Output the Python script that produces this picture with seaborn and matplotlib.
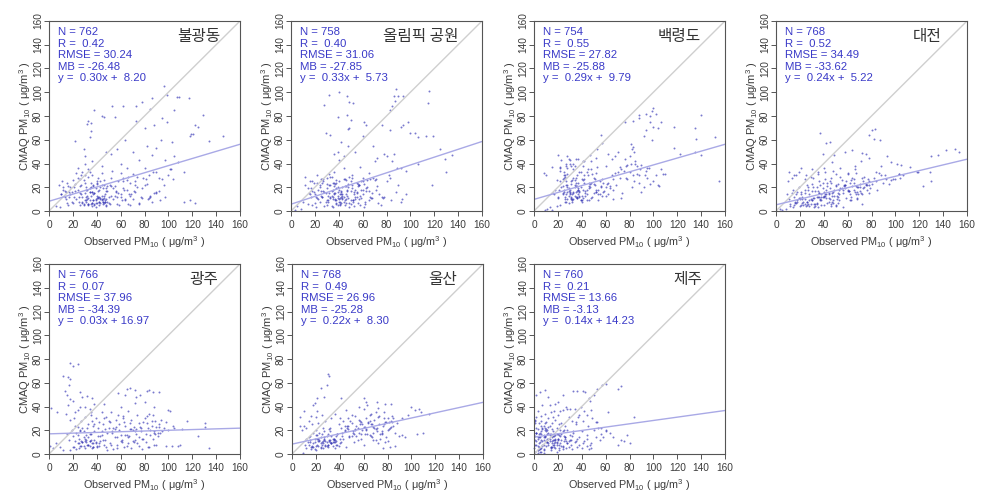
#!/usr/bin/env python3
"""CMAQ vs observed PM10 scatter panels for seven sites."""

import matplotlib
matplotlib.use("Agg")
import matplotlib.pyplot as plt
import numpy as np
import seaborn as sns

sites = ["불광동", "올림픽 공원", "백령도", "대전", "광주", "울산", "제주"]
n_obs = [762, 758, 754, 768, 766, 768, 760]
r_vals = [0.42, 0.40, 0.55, 0.52, 0.07, 0.49, 0.21]
rmse_vals = [30.24, 31.06, 27.82, 34.49, 37.96, 26.96, 13.66]
mb_vals = [-26.48, -27.85, -25.88, -33.62, -34.39, -25.28, -3.13]
slopes = [0.30, 0.33, 0.29, 0.24, 0.03, 0.22, 0.14]
intercepts = [8.20, 5.73, 9.79, 5.22, 16.97, 8.30, 14.23]
ticks = [0, 20, 40, 60, 80, 100, 120, 140, 160]

obs_1 = [
    96, 99, 107, 109, 117, 86, 78, 62, 53, 73, 38, 44, 46, 55, 33, 35, 73, 32, 85, 105,
    99, 88, 80, 95, 122, 125, 129, 121, 119, 118, 134, 146, 103, 35, 34, 22, 64, 82, 90, 94,
    105, 86, 97, 70, 57, 52, 48, 29, 30, 36, 44, 60, 65, 75, 80, 90, 100, 108, 113, 113,
    118, 122, 102, 104, 96, 92, 85, 72, 68, 62, 8, 12, 15, 18, 20, 22, 24, 26, 28, 30,
    10, 14, 17, 21, 25, 29, 33, 36, 39, 42, 45, 48, 51, 54, 57, 60, 31, 34, 37, 40,
    43, 46, 32, 35, 38, 41, 44, 47, 50, 27, 30, 33, 36, 39, 42, 45, 48, 28, 31, 34,
    37, 40, 43, 46, 49, 52, 55, 58, 62, 65, 70, 75, 80, 85, 90, 95, 66, 72, 78, 84,
    6, 9, 13, 16, 19, 23, 26, 24, 27, 30, 33, 36, 40, 44, 48, 52, 56, 60, 64, 68,
    31, 33, 35, 37, 39, 41, 43, 45, 47, 29, 32, 34, 36, 38, 40, 42, 44, 46, 48, 30,
    33, 37, 41, 45, 49, 35, 39, 43, 47, 28, 32, 36, 40, 44, 34, 38, 42, 46, 50, 26,
    24, 22, 19, 16, 13, 11, 18, 21, 25, 28, 31, 27, 23, 20, 17, 14, 12, 10, 15, 26,
    52, 55, 58, 61, 63, 66, 69, 72, 75, 78, 81, 84, 87, 90, 93, 60, 64, 68, 71, 74,
    77, 82, 86, 53, 56, 59, 62, 67, 70, 74, 79, 83, 88, 92, 97, 101, 51, 54, 57, 65,
    38, 42, 46, 35, 31, 29, 37, 41, 44, 48, 33, 39, 43, 47, 36, 40, 45, 30, 34, 49,
]
cmaq_1 = [
    105, 98, 96, 96, 95, 95, 92, 88, 88, 88, 85, 80, 79, 79, 76, 74, 76, 73, 86, 85,
    75, 72, 70, 78, 72, 71, 81, 65, 65, 63, 59, 63, 58, 67, 62, 59, 60, 55, 53, 60,
    46, 47, 43, 50, 52, 48, 50, 52, 46, 42, 38, 40, 36, 43, 36, 33, 30, 41, 33, 8,
    9, 7, 35, 27, 22, 17, 13, 16, 13, 19, 22, 18, 24, 20, 26, 17, 28, 21, 33, 24,
    14, 10, 16, 12, 8, 6, 5, 7, 3, 5, 8, 4, 6, 10, 12, 14, 12, 16, 9, 7,
    11, 13, 18, 20, 15, 17, 10, 8, 12, 14, 9, 6, 4, 10, 12, 8, 5, 7, 9, 19,
    22, 24, 20, 26, 17, 13, 21, 15, 28, 18, 10, 7, 22, 12, 16, 27, 6, 25, 11, 30,
    4, 3, 12, 5, 8, 32, 27, 36, 30, 40, 35, 30, 25, 22, 19, 28, 16, 12, 9, 5,
    8, 11, 6, 14, 9, 12, 7, 10, 8, 5, 13, 9, 16, 6, 11, 8, 13, 7, 10, 15,
    6, 9, 11, 6, 8, 13, 7, 10, 9, 12, 10, 7, 13, 9, 16, 5, 8, 11, 7, 15,
    18, 23, 16, 21, 17, 25, 14, 20, 12, 8, 18, 22, 10, 7, 12, 16, 20, 14, 7, 5,
    21, 13, 25, 9, 18, 29, 14, 22, 6, 19, 27, 11, 33, 15, 9, 32, 10, 24, 17, 29,
    12, 23, 8, 34, 17, 5, 25, 14, 31, 20, 28, 10, 15, 28, 12, 35, 22, 19, 6, 26,
    15, 18, 22, 24, 20, 26, 21, 28, 32, 17, 29, 19, 25, 14, 16, 23, 19, 30, 33, 21,
]

obs_2 = [
    88, 40, 32, 116, 47, 49, 52, 86, 90, 94, 115, 28, 87, 85, 83, 47, 39, 50, 49, 61,
    63, 48, 83, 92, 94, 98, 76, 29, 33, 100, 104, 106, 113, 119, 60, 48, 42, 39, 36, 54,
    69, 72, 78, 85, 92, 125, 135, 129, 130, 118, 106, 96, 86, 80, 70, 65, 60, 58, 44, 40,
    36, 22, 18, 15, 12, 24, 27, 30, 33, 36, 39, 42, 45, 48, 51, 54, 57, 60, 63, 66,
    20, 23, 26, 29, 32, 35, 38, 41, 44, 47, 50, 53, 56, 59, 62, 65, 30, 34, 38, 42,
    46, 34, 37, 40, 43, 46, 49, 52, 55, 58, 18, 21, 24, 28, 31, 35, 39, 43, 47, 51,
    55, 59, 64, 68, 72, 76, 80, 84, 88, 92, 96, 70, 75, 82, 90, 5, 8, 3, 10, 14,
    17, 25, 33, 37, 41, 45, 49, 53, 57, 61, 66, 71, 77, 83, 89, 93, 26, 32, 38, 44,
    37, 39, 41, 43, 35, 38, 40, 42, 44, 36, 41, 39, 45, 33, 46, 31, 48, 50, 52, 54,
    16, 19, 22, 25, 27, 30, 33, 36, 40, 43, 47, 51, 54, 58, 62, 17, 20, 23, 26, 29,
    32, 35, 38, 42, 46, 50, 53, 56, 60, 64, 68, 21, 24, 28, 31, 34, 37, 41, 44, 48,
    52, 55, 59, 63, 67, 71, 74, 19, 25, 30, 36, 43, 49, 57, 65, 69, 73, 78, 35, 39,
    12, 14, 16, 18, 22, 26, 30, 34, 40, 45, 50, 55, 60, 38, 42, 46, 51, 56, 61, 27,
]
cmaq_2 = [
    103, 100, 98, 101, 97, 92, 91, 97, 97, 97, 91, 89, 93, 88, 85, 81, 79, 77, 70, 75,
    72, 69, 68, 71, 72, 75, 72, 66, 64, 66, 66, 62, 63, 63, 63, 55, 58, 50, 48, 50,
    55, 45, 48, 42, 36, 52, 47, 44, 33, 22, 40, 34, 48, 46, 42, 32, 28, 37, 46, 43,
    33, 30, 25, 15, 29, 22, 27, 19, 29, 24, 20, 16, 27, 23, 28, 18, 22, 25, 17, 27,
    14, 10, 12, 8, 15, 10, 7, 11, 8, 13, 9, 14, 7, 11, 6, 9, 5, 4, 9, 12,
    10, 13, 10, 8, 11, 14, 7, 9, 12, 5, 5, 3, 8, 4, 13, 18, 16, 20, 17, 19,
    15, 18, 20, 15, 21, 12, 25, 9, 16, 8, 14, 26, 5, 30, 22, 4, 2, 1, 8, 6,
    12, 17, 22, 15, 6, 5, 3, 4, 10, 3, 12, 18, 11, 28, 36, 10, 24, 31, 26, 36,
    9, 11, 8, 10, 12, 6, 10, 7, 12, 14, 5, 13, 9, 11, 7, 8, 11, 6, 9, 12,
    14, 16, 11, 13, 17, 9, 12, 15, 18, 14, 18, 22, 10, 13, 8, 19, 7, 18, 12, 15,
    22, 24, 19, 14, 21, 25, 16, 23, 18, 26, 11, 12, 20, 16, 9, 17, 23, 14, 27, 20,
    8, 16, 25, 19, 11, 27, 14, 24, 27, 28, 21, 13, 29, 22, 17, 28, 7, 12, 3, 5,
    22, 19, 25, 17, 24, 27, 23, 29, 25, 21, 17, 24, 14, 24, 17, 26, 30, 21, 23, 25,
]

obs_3 = [
    100, 99, 97, 102, 88, 94, 76, 83, 88, 97, 106, 140, 117, 135, 136, 152, 155, 56, 53, 94,
    92, 81, 83, 100, 104, 99, 84, 82, 80, 117, 122, 135, 140, 106, 110, 102, 96, 90, 86, 78,
    75, 70, 65, 62, 57, 52, 47, 42, 35, 28, 20, 22, 8, 10, 15, 60, 68, 72, 85, 95,
    18, 20, 22, 24, 26, 28, 30, 32, 34, 36, 38, 40, 42, 44, 46, 48, 50, 52, 54, 56,
    25, 27, 29, 31, 33, 35, 37, 39, 41, 43, 25, 28, 31, 34, 37, 40, 43, 46, 49, 52,
    55, 58, 60, 26, 29, 32, 35, 38, 41, 44, 47, 50, 22, 24, 27, 30, 33, 36, 39, 42,
    45, 48, 51, 54, 62, 66, 70, 74, 78, 82, 86, 90, 94, 100, 104, 9, 11, 13, 15, 17,
    19, 20, 16, 22, 27, 31, 36, 41, 46, 52, 57, 64, 68, 73, 77, 83, 88, 95, 105, 108,
    26, 28, 30, 32, 34, 36, 38, 25, 27, 29, 31, 33, 35, 37, 39, 28, 30, 32, 34, 36,
    38, 40, 27, 29, 31, 33, 35, 37, 24, 26, 28, 32, 36, 40, 44, 48, 52, 56, 60, 64,
    23, 25, 28, 31, 34, 38, 42, 46, 50, 54, 58, 62, 66, 22, 26, 29, 33, 37, 41, 45,
    49, 53, 57, 61, 65, 69, 73, 77, 81, 85, 89, 93, 97, 72, 76, 80, 84, 88, 92, 66,
    21, 19, 23, 25, 30, 35, 39, 44, 48, 55, 24, 27, 30, 33, 37, 41, 43, 47, 51, 59,
]
cmaq_3 = [
    87, 84, 80, 82, 81, 82, 75, 76, 78, 75, 75, 81, 71, 70, 61, 62, 25, 64, 52, 68,
    63, 56, 54, 71, 70, 60, 50, 52, 46, 53, 48, 50, 47, 35, 31, 30, 36, 39, 38, 39,
    34, 50, 44, 48, 57, 45, 47, 42, 44, 46, 47, 36, 32, 30, 37, 38, 46, 28, 40, 36,
    18, 12, 25, 15, 10, 20, 14, 8, 22, 17, 12, 9, 27, 14, 19, 11, 23, 16, 9, 20,
    28, 22, 17, 12, 10, 24, 14, 9, 18, 13, 30, 16, 11, 26, 19, 8, 15, 21, 12, 18,
    25, 16, 20, 8, 7, 10, 16, 13, 11, 9, 23, 15, 5, 21, 14, 18, 28, 12, 33, 24,
    30, 35, 27, 14, 24, 18, 33, 15, 27, 20, 31, 16, 34, 25, 22, 1, 2, 3, 1, 14,
    4, 11, 15, 34, 40, 38, 30, 26, 9, 32, 13, 21, 32, 11, 38, 30, 24, 28, 21, 31,
    12, 10, 15, 9, 13, 11, 16, 18, 8, 13, 10, 15, 12, 18, 9, 22, 16, 14, 20, 11,
    17, 13, 25, 19, 23, 16, 21, 18, 27, 30, 31, 26, 21, 27, 18, 24, 16, 21, 13, 19,
    20, 33, 36, 25, 38, 33, 30, 24, 28, 18, 24, 14, 10, 37, 29, 44, 40, 44, 38, 35,
    31, 37, 27, 23, 30, 22, 35, 28, 40, 42, 35, 30, 23, 37, 44, 33, 25, 30, 20, 27,
    18, 26, 43, 16, 40, 28, 20, 33, 42, 14, 14, 38, 43, 35, 24, 42, 17, 20, 22, 17,
]

obs_4 = [
    80, 83, 37, 45, 42, 39, 78, 82, 87, 64, 72, 75, 78, 58, 49, 47, 150, 142, 136, 130,
    153, 93, 96, 101, 105, 88, 129, 118, 123, 130, 112, 119, 106, 103, 96, 85, 71, 66, 60, 54,
    50, 40, 35, 30, 21, 19, 17, 11, 13, 15, 10, 24, 29, 36, 41, 46, 52, 58, 63, 68,
    12, 15, 18, 20, 22, 24, 26, 28, 30, 32, 34, 36, 38, 40, 42, 44, 46, 48, 50, 52,
    14, 17, 20, 23, 26, 29, 32, 35, 38, 41, 44, 47, 50, 53, 56, 59, 62, 65, 68, 72,
    75, 78, 70, 65, 60, 55, 50, 45, 40, 37, 33, 30, 27, 24, 21, 18, 15, 12, 8, 5,
    3, 25, 31, 35, 41, 48, 54, 60, 66, 72, 78, 84, 90, 95, 100, 104, 84, 88, 92, 76,
    61, 67, 73, 80, 56, 51, 39, 43, 36, 34, 28, 22, 19, 16, 45, 49, 53, 57, 62, 69,
    18, 21, 24, 27, 30, 33, 19, 22, 25, 28, 31, 34, 37, 40, 16, 20, 23, 26, 29, 32,
    35, 38, 41, 44, 47, 36, 39, 42, 45, 48, 51, 33, 37, 40, 43, 46, 49, 52, 55, 58,
    61, 64, 67, 70, 73, 76, 63, 66, 69, 72, 75, 78, 60, 57, 54, 62, 65, 68, 71, 74,
    48, 52, 56, 59, 63, 46, 50, 53, 58, 64, 68, 43, 47, 24, 27, 21, 30, 34, 38, 42,
    14, 17, 9, 11, 13, 26, 31, 35, 39, 44, 77, 79, 82, 86, 91, 98, 103, 67, 70, 74,
]
cmaq_4 = [
    68, 69, 66, 58, 57, 48, 64, 61, 60, 51, 49, 48, 45, 50, 47, 41, 52, 51, 47, 46,
    50, 46, 41, 40, 39, 38, 33, 33, 21, 25, 37, 33, 30, 31, 26, 18, 42, 38, 32, 36,
    31, 36, 33, 35, 36, 33, 30, 33, 28, 30, 25, 27, 29, 25, 27, 24, 23, 22, 26, 20,
    6, 5, 9, 4, 10, 6, 8, 4, 9, 3, 7, 12, 5, 13, 11, 14, 6, 9, 4, 7,
    3, 7, 11, 8, 5, 10, 6, 3, 12, 14, 8, 15, 5, 9, 3, 11, 14, 18, 10, 6,
    22, 15, 20, 24, 18, 26, 21, 19, 16, 22, 17, 23, 20, 18, 14, 16, 12, 4, 2, 1,
    2, 30, 28, 31, 33, 34, 29, 31, 35, 28, 22, 25, 24, 23, 27, 28, 33, 30, 27, 18,
    17, 21, 25, 23, 15, 10, 24, 21, 15, 12, 14, 12, 20, 8, 25, 13, 18, 22, 9, 14,
    8, 5, 10, 6, 9, 4, 11, 7, 4, 9, 11, 6, 10, 12, 7, 10, 5, 8, 6, 11,
    12, 9, 13, 11, 8, 15, 12, 14, 10, 7, 13, 6, 9, 5, 7, 4, 18, 15, 19, 22,
    17, 21, 14, 23, 19, 22, 12, 16, 20, 14, 23, 25, 17, 21, 19, 24, 27, 11, 15, 20,
    16, 12, 18, 25, 9, 28, 22, 14, 19, 28, 16, 24, 13, 15, 18, 16, 17, 20, 14, 18,
    18, 14, 14, 10, 15, 22, 20, 17, 19, 15, 27, 19, 28, 32, 30, 27, 31, 32, 17, 29,
]

obs_5 = [
    18, 20, 24, 12, 16, 18, 17, 13, 15, 18, 20, 26, 2, 7, 65, 68, 72, 82, 84, 87,
    92, 76, 73, 64, 58, 46, 32, 36, 38, 28, 26, 131, 131, 125, 134, 100, 101, 105, 110, 116,
    111, 103, 108, 98, 94, 88, 80, 72, 66, 60, 52, 44, 30, 34, 22, 24, 16, 14, 18, 21,
    18, 21, 24, 27, 30, 33, 36, 39, 42, 45, 48, 51, 54, 57, 60, 63, 66, 69, 72, 75,
    78, 81, 84, 87, 90, 22, 25, 28, 31, 34, 37, 40, 43, 46, 49, 55, 61, 67, 73, 79,
    85, 91, 20, 23, 26, 29, 32, 35, 38, 41, 47, 53, 59, 65, 71, 77, 83, 89, 1, 3,
    6, 9, 12, 15, 27, 33, 39, 45, 51, 56, 62, 68, 74, 80, 86, 92, 96, 100, 104, 30,
    35, 42, 48, 54, 58, 64, 70, 76, 82, 88, 24, 29, 34, 37, 44, 50, 57, 63, 69, 75,
    25, 27, 29, 31, 33, 35, 37, 39, 26, 28, 30, 32, 34, 36, 38, 40, 23, 25, 30, 34,
    37, 42, 47, 52, 57, 61, 65, 70, 74, 78, 83, 88, 43, 49, 55, 60, 66, 72, 77, 81,
    85, 90, 93, 20, 24, 28, 33, 38, 44, 50, 56, 62, 68, 75, 82, 86, 89, 91, 87, 71,
    17, 19, 22, 26, 31, 36, 41, 46, 53, 59, 64, 69, 73, 79, 84, 88, 92, 95, 98, 35,
]
cmaq_5 = [
    77, 74, 76, 66, 65, 63, 58, 53, 50, 46, 45, 52, 39, 35, 55, 56, 54, 53, 54, 52,
    52, 50, 48, 50, 51, 42, 49, 47, 42, 48, 40, 26, 23, 15, 5, 37, 36, 22, 8, 28,
    21, 7, 7, 7, 29, 40, 44, 43, 36, 40, 35, 35, 40, 38, 35, 37, 41, 34, 29, 30,
    3, 6, 9, 7, 11, 8, 5, 10, 7, 12, 6, 9, 4, 8, 11, 6, 9, 5, 12, 7,
    4, 10, 6, 13, 8, 11, 5, 10, 12, 7, 9, 6, 11, 8, 3, 14, 12, 15, 17, 13,
    16, 18, 15, 18, 20, 14, 22, 17, 19, 15, 21, 18, 20, 16, 23, 19, 22, 17, 7, 5,
    9, 6, 3, 17, 28, 25, 30, 25, 27, 29, 32, 26, 33, 30, 28, 25, 22, 20, 24, 31,
    35, 27, 31, 22, 33, 24, 20, 23, 26, 19, 23, 19, 17, 24, 16, 22, 14, 27, 21, 14,
    9, 11, 7, 10, 8, 12, 6, 9, 7, 10, 13, 8, 11, 9, 12, 7, 4, 13, 5, 11,
    6, 9, 12, 8, 5, 10, 7, 11, 9, 13, 6, 8, 15, 18, 21, 16, 14, 19, 22, 17,
    20, 23, 18, 6, 16, 22, 14, 25, 19, 28, 23, 30, 21, 26, 32, 24, 28, 15, 33, 10,
    12, 20, 24, 19, 16, 28, 22, 30, 19, 25, 16, 29, 21, 27, 34, 18, 23, 19, 27, 33,
]

obs_6 = [
    30, 31, 29, 24, 27, 21, 18, 19, 41, 60, 62, 71, 78, 83, 72, 63, 56, 45, 10, 7,
    16, 21, 100, 106, 108, 115, 103, 97, 92, 85, 92, 86, 82, 78, 90, 95, 110, 105, 70, 60,
    50, 40, 36, 25, 20, 14, 10, 8, 12, 17, 12, 14, 16, 18, 20, 22, 24, 26, 28, 30,
    32, 34, 36, 38, 40, 13, 15, 17, 19, 21, 23, 25, 27, 29, 31, 33, 35, 37, 39, 15,
    18, 21, 24, 27, 30, 33, 36, 20, 23, 26, 29, 32, 35, 38, 41, 44, 47, 50, 53, 56,
    59, 62, 65, 68, 71, 74, 77, 80, 83, 42, 46, 50, 54, 58, 62, 66, 70, 74, 78, 82,
    86, 48, 52, 57, 61, 65, 69, 73, 77, 81, 84, 88, 43, 47, 55, 60, 67, 72, 76, 22,
    28, 33, 39, 9, 11, 7, 25, 31, 37, 44, 51, 58, 64, 68, 75, 80, 40, 45, 53, 66,
    16, 18, 20, 22, 24, 26, 28, 30, 32, 34, 19, 21, 23, 25, 27, 29, 31, 33, 35, 17,
    19, 24, 28, 33, 37, 15, 22, 26, 30, 35, 42, 46, 51, 55, 59, 63, 67, 71, 75, 79,
    83, 49, 53, 57, 61, 65, 69, 73, 77, 81, 85, 44, 48, 52, 56, 60, 64, 68, 72, 76,
    80, 84, 79, 75, 70, 66, 62, 58, 54, 47, 43, 38, 34, 20, 27, 32, 36, 12, 14, 41,
]
cmaq_6 = [
    67, 66, 58, 56, 48, 47, 41, 43, 47, 47, 44, 44, 42, 42, 39, 41, 40, 37, 36, 31,
    32, 36, 40, 38, 35, 34, 37, 33, 30, 30, 16, 7, 6, 10, 15, 14, 18, 17, 35, 38,
    33, 30, 34, 33, 31, 28, 24, 20, 22, 25, 5, 8, 4, 6, 3, 7, 9, 5, 8, 6,
    10, 7, 5, 8, 9, 10, 12, 7, 10, 13, 11, 8, 13, 10, 12, 9, 13, 11, 7, 15,
    18, 16, 14, 12, 17, 15, 12, 20, 18, 22, 15, 19, 13, 17, 22, 19, 24, 15, 21, 18,
    25, 20, 16, 23, 19, 13, 25, 30, 28, 18, 22, 26, 24, 17, 30, 25, 21, 17, 27, 22,
    18, 14, 10, 28, 23, 33, 29, 32, 35, 27, 32, 26, 28, 30, 12, 8, 14, 9, 5, 26,
    28, 30, 25, 1, 8, 24, 17, 21, 15, 24, 19, 13, 26, 12, 18, 11, 13, 6, 32, 34,
    6, 9, 7, 11, 6, 9, 11, 8, 12, 10, 13, 8, 12, 10, 14, 7, 11, 9, 12, 6,
    4, 5, 7, 9, 8, 10, 13, 11, 8, 10, 15, 24, 18, 22, 20, 17, 25, 22, 19, 27,
    23, 28, 20, 25, 17, 28, 22, 25, 30, 21, 24, 20, 15, 17, 29, 23, 27, 18, 31, 24,
    20, 27, 14, 17, 12, 15, 21, 27, 15, 21, 13, 17, 13, 16, 19, 22, 10, 13, 14, 10,
]

obs_7 = [
    73, 70, 60, 57, 53, 43, 41, 36, 50, 46, 33, 62, 84, 78, 75, 73, 80, 70, 66, 60,
    56, 52, 48, 44, 2, 5, 9, 12, 18, 24, 28, 22, 14, 7, 1, 1, 2, 3, 3, 4,
    5, 5, 6, 7, 8, 8, 9, 10, 10, 11, 12, 13, 14, 15, 16, 17, 18, 19, 20, 21,
    22, 23, 24, 25, 26, 27, 28, 29, 30, 31, 32, 34, 36, 38, 40, 42, 44, 46, 48, 1,
    2, 3, 4, 6, 7, 8, 9, 11, 12, 13, 14, 15, 16, 17, 18, 19, 20, 21, 22, 24,
    26, 28, 30, 33, 36, 40, 44, 48, 52, 56, 60, 64, 1, 2, 4, 6, 8, 10, 12, 15,
    18, 20, 23, 26, 29, 32, 35, 38, 41, 45, 49, 53, 30, 27, 24, 20, 17, 13, 9, 6,
    3, 35, 39, 47, 54, 58, 25, 31, 16, 19, 11, 8, 5, 34, 37, 42, 50, 55, 3, 2,
    4, 6, 7, 9, 10, 12, 13, 15, 16, 18, 19, 21, 3, 5, 8, 11, 14, 17, 20, 23,
    1, 2, 4, 7, 9, 12, 15, 18, 21, 24, 27, 5, 8, 10, 13, 16, 19, 22, 25, 28,
    0, 1, 2, 3, 5, 6, 8, 11, 14, 17, 20, 6, 9, 12, 15, 18, 23, 26, 29, 32,
    35, 38, 41, 44, 47, 7, 10, 13, 17, 21, 4, 2, 1, 3, 6, 9, 14, 19, 24, 33,
]
cmaq_7 = [
    57, 55, 59, 58, 55, 52, 53, 53, 50, 47, 53, 35, 31, 16, 11, 12, 9, 8, 14, 19,
    22, 27, 37, 33, 50, 52, 54, 48, 42, 50, 38, 36, 35, 41, 29, 26, 22, 1, 3, 6,
    2, 10, 5, 8, 12, 3, 15, 7, 10, 13, 9, 11, 6, 14, 8, 12, 16, 10, 13, 5,
    9, 12, 7, 11, 14, 5, 9, 6, 12, 8, 4, 10, 6, 8, 5, 11, 7, 4, 9, 15,
    18, 13, 17, 19, 21, 16, 22, 20, 18, 24, 17, 21, 19, 15, 13, 22, 17, 25, 15, 19,
    13, 20, 16, 18, 13, 19, 16, 5, 14, 17, 20, 18, 28, 31, 26, 28, 24, 27, 30, 26,
    29, 33, 26, 24, 31, 28, 25, 33, 28, 24, 30, 27, 38, 40, 37, 44, 36, 41, 34, 32,
    36, 27, 40, 45, 22, 14, 20, 12, 31, 9, 17, 1, 4, 38, 31, 36, 20, 12, 14, 18,
    9, 12, 7, 14, 11, 8, 13, 6, 15, 10, 17, 8, 3, 5, 8, 10, 6, 9, 13, 7,
    12, 8, 4, 11, 15, 13, 9, 12, 16, 6, 11, 18, 14, 21, 17, 12, 8, 20, 15, 9,
    5, 2, 11, 7, 14, 2, 4, 10, 5, 8, 12, 17, 20, 23, 11, 5, 17, 14, 11, 15,
    11, 14, 9, 13, 8, 22, 19, 16, 6, 3, 14, 18, 8, 21, 24, 26, 3, 2, 4, 19,
]

obs_all = [obs_1, obs_2, obs_3, obs_4, obs_5, obs_6, obs_7]
cmaq_all = [cmaq_1, cmaq_2, cmaq_3, cmaq_4, cmaq_5, cmaq_6, cmaq_7]

# axes boxes in pixels: left, top, right, bottom
boxes = [
    (49, 21, 240, 211), (291, 21, 482, 211), (534, 21, 725, 211), (776, 21, 967, 211),
    (49, 264, 240, 454), (292, 264, 483, 454), (534, 264, 725, 454),
]
title_right = [0.895, 0.874, 0.874, 0.869, 0.885, 0.864, 0.88]
W, H = 999, 493

sns.set_style("white")
plt.rcParams["font.family"] = ["Liberation Sans", "DejaVu Sans"]
plt.rcParams["mathtext.default"] = "regular"
plt.rcParams["axes.unicode_minus"] = False

TEXT = "#3c3c3c"
BLUE = "#3a3ac8"

fig = plt.figure(figsize=(W / 100, H / 100), dpi=100)
line_x = np.array([0, 160])

for i, site in enumerate(sites):
    l, t, r, b = boxes[i]
    ax = fig.add_axes([l / W, 1 - b / H, (r - l) / W, (b - t) / H])
    sns.lineplot(x=line_x, y=line_x, color="#cfcfcf", lw=1.0, ax=ax)
    sns.lineplot(x=line_x, y=slopes[i] * line_x + intercepts[i], color="#a9a9e6", lw=1.0, ax=ax)
    sns.scatterplot(x=obs_all[i], y=cmaq_all[i], s=2.0, color="#3232b4", alpha=0.65,
                    linewidth=0, ax=ax, clip_on=False)
    ax.set_xlim(0, 160)
    ax.set_ylim(0, 160)
    ax.set_xticks(ticks)
    ax.set_yticks(ticks)
    ax.tick_params(axis="both", length=3.6, width=0.7, color="#555555", labelcolor=TEXT,
                   labelsize=7.3, bottom=True, left=True)
    ax.tick_params(axis="x", pad=3)
    ax.tick_params(axis="y", pad=0.8, labelrotation=90)
    for lab in ax.get_yticklabels():
        lab.set_va("center")
    for s in ax.spines.values():
        s.set_color("#555555")
        s.set_linewidth(0.8)
    ax.set_xlabel("Observed PM$_{10}$ ( μg/m$^{3}$ )", fontsize=7.8, color=TEXT, labelpad=3)
    ax.set_ylabel("CMAQ PM$_{10}$ ( μg/m$^{3}$ )", fontsize=8.0, color=TEXT, labelpad=0)
    stats = [
        f"N = {n_obs[i]}",
        f"R =  {r_vals[i]:.2f}",
        f"RMSE = {rmse_vals[i]:.2f}",
        f"MB = {mb_vals[i]:.2f}",
        f"y =  {slopes[i]:.2f}x + {intercepts[i]:5.2f}",
    ]
    for k, line in enumerate(stats):
        ax.text(0.046, 0.968 - k * 0.0605, line, transform=ax.transAxes, color=BLUE,
                fontsize=8.2, va="top", ha="left")
    ax.text(title_right[i], 0.918, site, transform=ax.transAxes, ha="right", va="center",
            fontsize=11.3, color="#333333", family=["Noto Sans CJK KR", "DejaVu Sans"])

fig.savefig("out.png", dpi=100)
